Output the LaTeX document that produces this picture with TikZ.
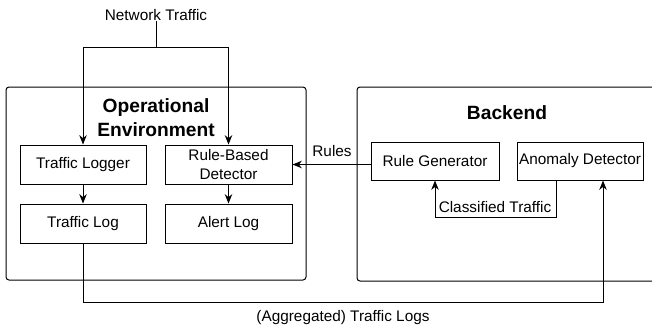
\documentclass[tikz,border=0pt]{standalone}
\usepackage{fontspec}
\setmainfont{Liberation Sans}
\usetikzlibrary{arrows.meta}
\tikzset{
  box/.style={draw, line width=0.75pt, align=center, inner sep=0pt,
    font=\fontsize{11.5}{14.25}\selectfont},
  area/.style={draw, line width=0.75pt, rounded corners=2.25pt},
  conn/.style={line width=0.75pt},
  arr/.style={conn, -{Stealth[length=7pt,width=5.6pt,inset=2.2pt]}},
  lbl/.style={inner sep=0pt, font=\fontsize{11.5}{14}\selectfont},
  title/.style={inner sep=0pt, align=center, font=\fontsize{14.4}{18}\selectfont\bfseries}
}
\begin{document}
\begin{tikzpicture}[x=0.75pt,y=-0.75pt]
\useasboundingbox (0,0) rectangle (652,330);
\clip (0,0) rectangle (652,330);
\fill[white] (0,0) rectangle (652,330);
% areas
\draw[area] (6,87) rectangle (306,280);
\draw[area] (357,87) rectangle (690,281);
\node[title] (optitle) at (156,118) {Operational\\Environment};
\node[title] (betitle) at (507,113) {Backend};
% boxes
\node[box, minimum width=94.5pt, minimum height=29.25pt] (tlogger) at (83,164.5) {Traffic Logger};
\node[box, minimum width=94.5pt, minimum height=29.25pt] (tlog) at (83,223.5) {Traffic Log};
\node[box, minimum width=95.25pt, minimum height=29.25pt] (rbd) at (228.5,164.5) {Rule-Based\\Detector};
\node[box, minimum width=95.25pt, minimum height=29.25pt] (alog) at (228.5,223.5) {Alert Log};
\node[box, minimum width=96pt, minimum height=28.5pt] (rg) at (435,161) {Rule Generator};
\node[box, minimum width=94.5pt, minimum height=28.5pt] (ad) at (580,161) {Anomaly Detector};
% labels
\node[lbl] (nt) at (156,15) {Network Traffic};
\node[lbl] (rules) at (332,151) {Rules};
\node[lbl] (clt) at (495,207) {Classified Traffic};
\node[lbl] (agt) at (343,318) {(Aggregated) Traffic Logs};
% coordinates
\coordinate (split) at (156,47);
\coordinate (adout) at ([xshift=-18pt]ad.south);
\coordinate (adin) at ([xshift=17.25pt]ad.south);
\coordinate (clbot) at (500,217);
\coordinate (aggbot) at (300,302);
% connectors
\draw[conn] (nt.south) -- (split);
\draw[arr] (split) -| (tlogger.north);
\draw[arr] (split) -| (rbd.north);
\draw[arr] (tlogger) -- (tlog);
\draw[arr] (rbd) -- (alog);
\draw[arr] (rbd.east -| rg.west) -- (rbd.east);
\draw[arr] (adout) |- (clbot) -| (rg.south);
\draw[arr] (tlog.south) |- (aggbot -| adin) -- (adin);
\end{tikzpicture}
\end{document}
